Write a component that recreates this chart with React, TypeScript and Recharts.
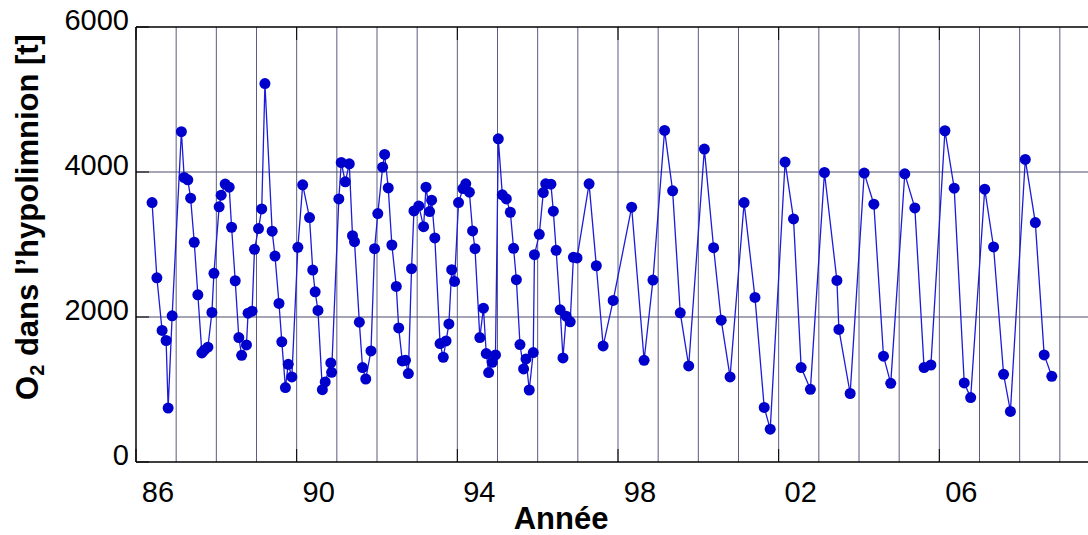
import { Line, LineChart, ReferenceLine, XAxis, YAxis } from "recharts";

// Sampling dates (decimal year, 86 = 1986) and hypolimnion O2 stock in tonnes
const years = [
  86.40, 86.52, 86.65, 86.75, 86.80, 86.90, 87.13, 87.20, 87.29, 87.36,
  87.45, 87.54, 87.64, 87.70, 87.79, 87.89, 87.94, 88.07, 88.12, 88.22,
  88.32, 88.38, 88.47, 88.56, 88.63, 88.75, 88.79, 88.89, 88.95, 89.05,
  89.13, 89.21, 89.39, 89.46, 89.56, 89.63, 89.72, 89.79, 89.88, 90.03,
  90.15, 90.32, 90.40, 90.46, 90.53, 90.64, 90.71, 90.85, 90.87, 91.05,
  91.11, 91.21, 91.31, 91.39, 91.44, 91.56, 91.64, 91.72, 91.85, 91.94,
  92.02, 92.14, 92.19, 92.28, 92.37, 92.48, 92.54, 92.63, 92.71, 92.78,
  92.86, 92.92, 93.04, 93.16, 93.22, 93.31, 93.36, 93.44, 93.57, 93.65,
  93.72, 93.79, 93.86, 93.93, 94.03, 94.14, 94.21, 94.30, 94.38, 94.44,
  94.56, 94.65, 94.72, 94.78, 94.87, 94.95, 95.02, 95.12, 95.22, 95.32,
  95.40, 95.47, 95.56, 95.65, 95.71, 95.79, 95.89, 95.92, 96.04, 96.14,
  96.20, 96.33, 96.39, 96.46, 96.56, 96.63, 96.71, 96.81, 96.89, 96.98,
  97.28, 97.46, 97.63, 97.88, 98.34, 98.65, 98.87, 99.16, 99.36, 99.55,
  99.76, 100.15, 100.38, 100.57, 100.79, 101.14, 101.41, 101.64, 101.79, 102.16,
  102.37, 102.56, 102.79, 103.14, 103.45, 103.50, 103.78, 104.13, 104.37, 104.61,
  104.79, 105.14, 105.39, 105.62, 105.79, 106.14, 106.37, 106.62, 106.78, 107.13,
  107.35, 107.60, 107.77, 108.14, 108.39, 108.61, 108.80,
];

const o2 = [
  3578, 2541, 1814, 1676, 744, 2016, 4556, 3924, 3892, 3639,
  3031, 2306, 1505, 1542, 1583, 2063, 2602, 3519, 3680, 3833,
  3791, 3238, 2500, 1717, 1472, 1615, 2053, 2081, 2933, 3219,
  3491, 5219, 3183, 2841, 2187, 1657, 1026, 1348, 1173, 2961,
  3823, 3371, 2648, 2348, 2090, 998, 1104, 1366, 1237, 3629,
  4131, 3864, 4113, 3122, 3039, 1929, 1302, 1145, 1532, 2942,
  3426, 4067, 4242, 3781, 2993, 2422, 1850, 1394, 1403, 1219,
  2666, 3463, 3532, 3246, 3791, 3454, 3611, 3090, 1634, 1445,
  1670, 1905, 2652, 2491, 3578, 3772, 3837, 3722, 3187, 2942,
  1717, 2122, 1496, 1233, 1376, 1477, 4457, 3685, 3629, 3445,
  2948, 2514, 1620, 1283, 1421, 993, 1510, 2859, 3141, 3716,
  3837, 3832, 3459, 2920, 2099, 1435, 2012, 1933, 2823, 2814,
  3837, 2707, 1601, 2229, 3514, 1403, 2509, 4574, 3740, 2057,
  1325, 4316, 2956, 1956, 1173, 3578, 2270, 753, 453, 4137,
  3353, 1302, 1002, 3993, 2505, 1828, 945, 3985, 3556, 1459,
  1085, 3975, 3505, 1302, 1338, 4569, 3777, 1090, 888, 3763,
  2966, 1210, 698, 4173, 3302, 1477, 1182,
];

const yearTicks = [86, 90, 94, 98, 102, 106];
const gridYears = [87, 88, 89, 90, 91, 92, 93, 94, 95, 96, 97, 98, 99, 100, 101, 102, 103, 104, 105, 106, 107, 108, 109];
const o2Ticks = [0, 2000, 4000, 6000];
const o2Grid = [2000, 4000];

const data = years.map((year, i) => ({ year, o2: o2[i] }));

const FONT = '"Liberation Sans", Arial, Helvetica, sans-serif';
const PLOT_TOP = 27;
const PLOT_BOTTOM = 462;
const PLOT_LEFT = 136;
const MARK = 13; // inward tick length

function YearTick({ x, payload }: { x?: number; payload?: { value: number } }) {
  if (x === undefined || !payload) return null;
  const label = String(payload.value % 100).padStart(2, "0");
  return (
    <g>
      <line x1={x} x2={x} y1={PLOT_BOTTOM} y2={PLOT_BOTTOM - MARK} stroke="#000" />
      <line x1={x} x2={x} y1={PLOT_TOP} y2={PLOT_TOP + MARK} stroke="#000" />
      <text x={x + 22} y={502} textAnchor="middle" fontSize={29} fontFamily={FONT} fill="#000">
        {label}
      </text>
    </g>
  );
}

function O2Tick({ y, payload }: { y?: number; payload?: { value: number } }) {
  if (y === undefined || !payload) return null;
  return (
    <g>
      <line x1={PLOT_LEFT} x2={PLOT_LEFT + MARK} y1={y} y2={y} stroke="#000" />
      <text x={129} y={y + 3} textAnchor="end" fontSize={29} fontFamily={FONT} fill="#000">
        {payload.value}
      </text>
    </g>
  );
}

export default function App() {
  return (
    <div
      style={{
        position: "fixed", left: 0, top: 0, width: 1088, height: 535,
        overflow: "hidden", background: "#fff",
      }}
    >
      <LineChart width={1110} height={535} data={data} margin={{ top: PLOT_TOP, right: 10, bottom: 0, left: 0 }}>
        <XAxis
          type="number" dataKey="year" domain={[86, 110]} ticks={yearTicks} interval={0}
          allowDataOverflow height={73} tickSize={0} tickMargin={0} tickLine={false}
          axisLine={{ stroke: "#000", strokeWidth: 1.5 }} tick={<YearTick />}
        />
        <YAxis
          type="number" domain={[0, 6000]} ticks={o2Ticks} interval={0}
          width={PLOT_LEFT} tickSize={0} tickMargin={0} tickLine={false}
          axisLine={{ stroke: "#000", strokeWidth: 1.5 }} tick={<O2Tick />}
        />
        {gridYears.map((g) => (
          <ReferenceLine key={`v${g}`} x={g} stroke="#5c5c84" strokeWidth={1} />
        ))}
        {o2Grid.map((g) => (
          <ReferenceLine key={`h${g}`} y={g} stroke="#4a4a6e" strokeWidth={1} />
        ))}
        <ReferenceLine y={6000} stroke="#000" strokeWidth={1.5} />
        <Line
          type="linear" dataKey="o2" stroke="#1c1cd8" strokeWidth={1.3}
          dot={{ r: 5.5, fill: "#0000cc", stroke: "#0000cc", strokeWidth: 0 }}
          activeDot={false} isAnimationActive={false}
        />
      </LineChart>
      <svg
        width={1088} height={535}
        style={{ position: "absolute", left: 0, top: 0, pointerEvents: "none" }}
      >
        <text
          x={561} y={529} textAnchor="middle" fontSize={31} fontWeight="bold"
          fontFamily={FONT} fill="#000"
        >
          Année
        </text>
        <text
          x={38} y={217} transform="rotate(-90, 38, 217)" textAnchor="middle"
          fontSize={31} fontWeight="bold" fontFamily={FONT} fill="#000"
        >
          O<tspan fontSize={20} dy={6}>2</tspan>
          <tspan dy={-6}> dans l’hypolimnion [t]</tspan>
        </text>
      </svg>
    </div>
  );
}
